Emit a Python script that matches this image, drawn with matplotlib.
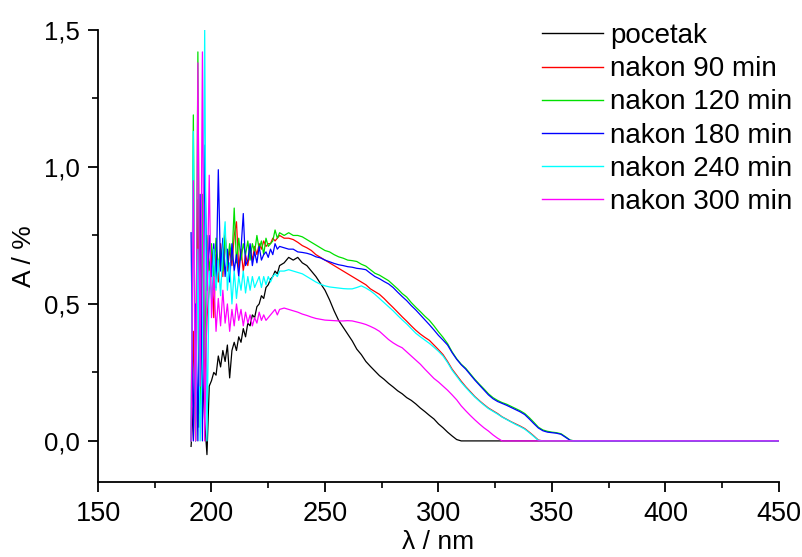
import numpy as np
import matplotlib
matplotlib.use("Agg")
import matplotlib.pyplot as plt
from matplotlib.ticker import MultipleLocator, FuncFormatter

plt.rcParams['font.family'] = ['Liberation Sans', 'DejaVu Sans']

# wavelength grid (nm): fine in noisy region, coarser afterwards, then flat to 450
wl_noisy = list(range(191, 231))          # 191..230
wl_smooth = list(range(232, 361, 2))      # 232..360
wl = np.array(wl_noisy + wl_smooth + [450])

labels = ["pocetak", "nakon 90 min", "nakon 120 min", "nakon 180 min",
          "nakon 240 min", "nakon 300 min"]
colors = ["#000000", "#ff0000", "#00e000", "#0000ff", "#00ffff", "#ff00ff"]

pocetak_noisy = [-0.02, 0.12, 0.16, 0.05, 0.55, 0.25, 0.07, -0.05, 0.20, 0.22,
                 0.25, 0.24, 0.31, 0.27, 0.33, 0.29, 0.35, 0.23, 0.33, 0.36,
                 0.33, 0.38, 0.36, 0.41, 0.38, 0.43, 0.42, 0.46, 0.45, 0.49,
                 0.50, 0.53, 0.52, 0.56, 0.57, 0.59, 0.60, 0.62, 0.61, 0.64]
pocetak_smooth = [0.65, 0.67, 0.66, 0.67, 0.65, 0.64, 0.62, 0.60, 0.575, 0.55,
                  0.515, 0.475, 0.44, 0.415, 0.39, 0.365, 0.335, 0.315, 0.29, 0.272,
                  0.255, 0.238, 0.225, 0.21, 0.197, 0.183, 0.172, 0.158, 0.148, 0.135,
                  0.12, 0.107, 0.093, 0.08, 0.062, 0.048, 0.032, 0.018, 0.005, 0.0,
                  0.0, 0.0, 0.0, 0.0, 0.0, 0.0, 0.0, 0.0, 0.0, 0.0,
                  0.0, 0.0, 0.0, 0.0, 0.0, 0.0, 0.0, 0.0, 0.0, 0.0,
                  0.0, 0.0, 0.0, 0.0, 0.0]

n90_noisy = [0.0, 0.40, 0.0, 0.88, 0.10, 0.80, 0.20, 0.45, 0.55, 0.70,
             0.45, 0.68, 0.58, 0.72, 0.60, 0.76, 0.62, 0.70, 0.64, 0.75,
             0.80, 0.63, 0.70, 0.62, 0.68, 0.64, 0.70, 0.66, 0.71, 0.68,
             0.72, 0.70, 0.73, 0.71, 0.72, 0.72, 0.74, 0.73, 0.74, 0.75]
n90_smooth = [0.74, 0.74, 0.735, 0.725, 0.713, 0.705, 0.695, 0.68, 0.67, 0.66,
              0.65, 0.64, 0.63, 0.62, 0.61, 0.60, 0.59, 0.58, 0.57, 0.555,
              0.545, 0.535, 0.52, 0.503, 0.487, 0.47, 0.453, 0.437, 0.42, 0.404,
              0.39, 0.378, 0.367, 0.35, 0.333, 0.315, 0.29, 0.262, 0.24, 0.218,
              0.198, 0.18, 0.162, 0.147, 0.133, 0.12, 0.11, 0.10, 0.088, 0.079,
              0.07, 0.062, 0.054, 0.045, 0.032, 0.018, 0.003, 0.0, 0.0, 0.0,
              0.0, 0.0, 0.0, 0.0, 0.0]

n120_noisy = [0.0, 1.19, 0.0, 1.42, 0.05, 0.90, 0.30, 0.75, 0.62, 0.72,
              0.60, 0.74, 0.63, 0.70, 0.62, 0.75, 0.64, 0.72, 0.66, 0.85,
              0.65, 0.74, 0.66, 0.72, 0.68, 0.73, 0.66, 0.72, 0.69, 0.75,
              0.70, 0.73, 0.68, 0.74, 0.71, 0.72, 0.73, 0.77, 0.74, 0.76]
n120_smooth = [0.75, 0.76, 0.75, 0.75, 0.745, 0.735, 0.725, 0.715, 0.705, 0.695,
               0.69, 0.68, 0.672, 0.667, 0.66, 0.658, 0.655, 0.645, 0.638, 0.625,
               0.612, 0.605, 0.595, 0.585, 0.57, 0.555, 0.538, 0.525, 0.505, 0.488,
               0.472, 0.455, 0.44, 0.42, 0.398, 0.378, 0.355, 0.325, 0.30, 0.28,
               0.265, 0.245, 0.225, 0.207, 0.19, 0.172, 0.158, 0.148, 0.14, 0.134,
               0.126, 0.118, 0.11, 0.10, 0.085, 0.068, 0.05, 0.04, 0.035, 0.032,
               0.03, 0.026, 0.015, 0.003, 0.0]

n180_noisy = [0.76, 0.0, 0.50, 0.0, 0.90, 0.0, 1.08, 0.55, 0.75, 0.60,
              0.72, 0.56, 0.99, 0.62, 0.74, 0.60, 0.70, 0.58, 0.72, 0.62,
              0.68, 0.60, 0.70, 0.83, 0.64, 0.66, 0.72, 0.64, 0.69, 0.65,
              0.71, 0.66, 0.68, 0.69, 0.67, 0.70, 0.68, 0.72, 0.70, 0.71]
n180_smooth = [0.705, 0.70, 0.70, 0.69, 0.688, 0.685, 0.68, 0.672, 0.668, 0.66,
               0.654, 0.648, 0.643, 0.64, 0.636, 0.634, 0.63, 0.628, 0.625, 0.612,
               0.60, 0.592, 0.582, 0.573, 0.56, 0.543, 0.527, 0.512, 0.494, 0.478,
               0.46, 0.442, 0.424, 0.405, 0.385, 0.368, 0.35, 0.322, 0.298, 0.278,
               0.262, 0.242, 0.222, 0.204, 0.186, 0.168, 0.154, 0.144, 0.137, 0.13,
               0.122, 0.114, 0.106, 0.096, 0.08, 0.063, 0.047, 0.037, 0.032, 0.03,
               0.028, 0.024, 0.013, 0.002, 0.0]

n240_noisy = [0.0, 1.13, 0.0, 0.70, 0.0, 0.30, 1.50, 0.0, 0.62, 0.52,
              0.70, 0.55, 0.66, 0.53, 0.70, 0.80, 0.55, 0.65, 0.50, 0.62,
              0.52, 0.60, 0.55, 0.62, 0.54, 0.60, 0.55, 0.60, 0.56, 0.58,
              0.60, 0.56, 0.60, 0.57, 0.60, 0.58, 0.60, 0.61, 0.60, 0.62]
n240_smooth = [0.62, 0.625, 0.62, 0.615, 0.61, 0.60, 0.59, 0.58, 0.572, 0.566,
               0.562, 0.56, 0.558, 0.556, 0.555, 0.555, 0.56, 0.566, 0.558, 0.548,
               0.535, 0.52, 0.505, 0.49, 0.475, 0.458, 0.442, 0.427, 0.41, 0.393,
               0.38, 0.368, 0.356, 0.342, 0.327, 0.31, 0.286, 0.258, 0.236, 0.214,
               0.195, 0.177, 0.16, 0.145, 0.131, 0.118, 0.108, 0.098, 0.087, 0.078,
               0.069, 0.06, 0.052, 0.043, 0.03, 0.016, 0.002, 0.0, 0.0, 0.0,
               0.0, 0.0, 0.0, 0.0, 0.0]

n300_noisy = [0.0, 0.95, 0.0, 1.38, 0.20, 1.42, 0.0, 0.50, 0.97, 0.45,
              0.60, 0.40, 0.52, 0.42, 0.55, 0.43, 0.50, 0.40, 0.48, 0.42,
              0.50, 0.44, 0.48, 0.42, 0.47, 0.43, 0.46, 0.42, 0.45, 0.43,
              0.47, 0.44, 0.46, 0.44, 0.45, 0.46, 0.47, 0.48, 0.46, 0.48]
n300_smooth = [0.485, 0.48, 0.475, 0.47, 0.463, 0.458, 0.452, 0.447, 0.444, 0.441,
               0.44, 0.439, 0.438, 0.438, 0.439, 0.438, 0.434, 0.43, 0.425, 0.418,
               0.41, 0.40, 0.385, 0.37, 0.358, 0.348, 0.34, 0.325, 0.31, 0.295,
               0.28, 0.262, 0.245, 0.228, 0.215, 0.20, 0.185, 0.168, 0.15, 0.128,
               0.11, 0.093, 0.077, 0.062, 0.048, 0.036, 0.022, 0.01, 0.0, 0.0,
               0.0, 0.0, 0.0, 0.0, 0.0, 0.0, 0.0, 0.0, 0.0, 0.0,
               0.0, 0.0, 0.0, 0.0, 0.0]

series = [
    pocetak_noisy + pocetak_smooth + [0.0],
    n90_noisy + n90_smooth + [0.0],
    n120_noisy + n120_smooth + [0.0],
    n180_noisy + n180_smooth + [0.0],
    n240_noisy + n240_smooth + [0.0],
    n300_noisy + n300_smooth + [0.0],
]

fig = plt.figure(figsize=(8.03, 5.57), dpi=100)
ax = fig.add_axes([98/803, 75/557, 681/803, 452/557])

for vals, lab, col in zip(series, labels, colors):
    ax.plot(wl, vals, color=col, lw=0.9, label=lab)

ax.set_xlim(150, 450)
ax.set_ylim(-0.15, 1.5)
ax.spines['top'].set_visible(False)
ax.spines['right'].set_visible(False)
for s in ('left', 'bottom'):
    ax.spines[s].set_linewidth(1.3)

ax.xaxis.set_major_locator(MultipleLocator(50))
ax.xaxis.set_minor_locator(MultipleLocator(25))
ax.yaxis.set_major_locator(MultipleLocator(0.5))
ax.yaxis.set_minor_locator(MultipleLocator(0.25))
ax.yaxis.set_major_formatter(FuncFormatter(lambda v, p: f"{v:.1f}".replace('.', ',')))
ax.tick_params(which='major', direction='out', length=7, width=1.3)
ax.tick_params(which='minor', direction='out', length=4, width=1.2)
ax.tick_params(axis='x', which='major', labelsize=19.5, pad=7)
ax.tick_params(axis='y', which='major', labelsize=18.5, pad=6)

ax.set_xlabel("λ / nm", fontsize=19, labelpad=2)
ax.set_ylabel("A / %", fontsize=19, labelpad=6)

leg = ax.legend(loc='upper left', bbox_to_anchor=(542/803, 1 - 23/557),
                bbox_transform=fig.transFigure, frameon=False, fontsize=20,
                handlelength=2.2, handletextpad=0.25, labelspacing=0.26,
                borderpad=0, borderaxespad=0)
for h in leg.get_lines():
    h.set_linewidth(1.0)

fig.savefig("out.png", dpi=100)
